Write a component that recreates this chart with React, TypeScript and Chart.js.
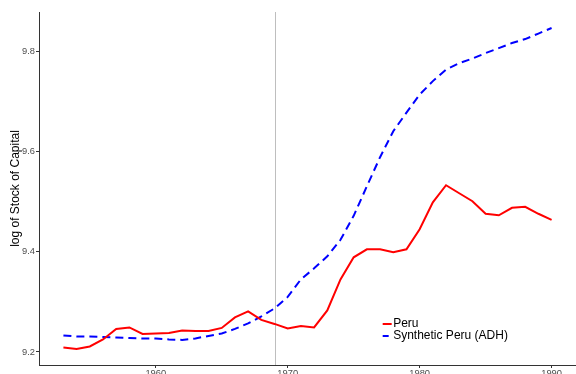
import React, { useEffect, useRef } from "react";
import { Chart, registerables } from "chart.js";

Chart.register(...registerables);

const years = [
  1953, 1954, 1955, 1956, 1957, 1958, 1959, 1960, 1961, 1962, 1963, 1964, 1965,
  1966, 1967, 1968, 1969, 1970, 1971, 1972, 1973, 1974, 1975, 1976, 1977, 1978,
  1979, 1980, 1981, 1982, 1983, 1984, 1985, 1986, 1987, 1988, 1989, 1990,
];

const peru = [
  9.209, 9.206, 9.211, 9.225, 9.246, 9.249, 9.236, 9.237, 9.238, 9.243, 9.242,
  9.242, 9.248, 9.269, 9.281, 9.264, 9.256, 9.247, 9.252, 9.249, 9.283, 9.345,
  9.389, 9.405, 9.405, 9.399, 9.405, 9.445, 9.499, 9.533, 9.517, 9.501, 9.476,
  9.473, 9.488, 9.49, 9.476, 9.464,
];

const syntheticPeru = [
  9.233, 9.231, 9.231, 9.23, 9.229, 9.228, 9.227, 9.227, 9.225, 9.224, 9.227,
  9.232, 9.237, 9.246, 9.257, 9.271, 9.287, 9.31, 9.345, 9.367, 9.391, 9.424,
  9.472, 9.531, 9.589, 9.641, 9.678, 9.714, 9.741, 9.764, 9.777, 9.786, 9.797,
  9.807, 9.817, 9.825, 9.836, 9.847,
];

const xTicks = [1960, 1970, 1980, 1990];
const yTicks = [9.2, 9.4, 9.6, 9.8];
const treatmentYear = 1969;
const seriesLabels = ["Peru", "Synthetic Peru (ADH)"];
const yTitle = "log of Stock of Capital";

const FONT = "'Liberation Sans', Arial, sans-serif";

function expand(values: number[], frac = 0.05): [number, number] {
  const lo = Math.min(...values);
  const hi = Math.max(...values);
  const pad = (hi - lo) * frac;
  return [lo - pad, hi + pad];
}

const vlinePlugin = {
  id: "vline",
  beforeDatasetsDraw(chart: any) {
    const { ctx, chartArea, scales } = chart;
    const x = Math.round(scales.x.getPixelForValue(treatmentYear)) + 0.5;
    ctx.save();
    ctx.strokeStyle = "#bebebe";
    ctx.lineWidth = 1;
    ctx.beginPath();
    ctx.moveTo(x, chartArea.top);
    ctx.lineTo(x, chartArea.bottom);
    ctx.stroke();
    ctx.restore();
  },
};

const legendPlugin = {
  id: "insideLegend",
  afterDraw(chart: any) {
    const { ctx, chartArea } = chart;
    const w = chartArea.right - chartArea.left;
    const h = chartArea.bottom - chartArea.top;
    const keyX = chartArea.left + w * 0.64;
    const keyW = 9;
    const y0 = chartArea.top + h * 0.885;
    const step = 11.5;
    ctx.save();
    ctx.font = `12px ${FONT}`;
    ctx.textBaseline = "middle";
    ctx.textAlign = "left";
    chart.data.datasets.forEach((ds: any, i: number) => {
      const y = Math.round(y0 + i * step);
      ctx.strokeStyle = ds.borderColor;
      ctx.lineWidth = 2;
      ctx.setLineDash(ds.borderDash && ds.borderDash.length ? [6, 5] : []);
      ctx.beginPath();
      ctx.moveTo(keyX, y);
      ctx.lineTo(keyX + keyW, y);
      ctx.stroke();
      ctx.setLineDash([]);
      ctx.fillStyle = "#000000";
      ctx.fillText(ds.label, keyX + keyW + 1.5, y);
    });
    ctx.restore();
  },
};

export default function App() {
  const canvasRef = useRef<HTMLCanvasElement | null>(null);

  useEffect(() => {
    document.body.style.margin = "0";
    const canvas = canvasRef.current;
    if (!canvas) return;
    const [xMin, xMax] = expand(years);
    const [yMin, yMax] = expand([...peru, ...syntheticPeru]);

    const chart = new Chart(canvas, {
      type: "line",
      data: {
        datasets: [
          {
            label: seriesLabels[0],
            data: years.map((yr, i) => ({ x: yr, y: peru[i] })),
            borderColor: "#ff0000",
            backgroundColor: "#ff0000",
            borderWidth: 2,
            pointRadius: 0,
            tension: 0,
            fill: false,
          },
          {
            label: seriesLabels[1],
            data: years.map((yr, i) => ({ x: yr, y: syntheticPeru[i] })),
            borderColor: "#0000ff",
            backgroundColor: "#0000ff",
            borderWidth: 2,
            borderDash: [8, 5],
            pointRadius: 0,
            tension: 0,
            fill: false,
          },
        ],
      },
      options: {
        animation: false,
        responsive: false,
        devicePixelRatio: 1,
        layout: { padding: { top: 12, right: 0, left: 0, bottom: 0 } },
        plugins: {
          legend: { display: false },
          tooltip: { enabled: false },
        },
        scales: {
          x: {
            type: "linear",
            min: xMin,
            max: xMax,
            afterBuildTicks(scale: any) {
              scale.ticks = xTicks.map((v) => ({ value: v }));
            },
            afterFit(scale: any) {
              scale.height = 9;
            },
            border: { display: true, color: "#333333", width: 1 },
            grid: {
              display: true,
              drawOnChartArea: false,
              drawTicks: true,
              tickLength: 3,
              color: "#333333",
            },
            ticks: {
              padding: 0,
              maxRotation: 0,
              autoSkip: false,
              color: "#4d4d4d",
              font: { family: FONT, size: 9.3 },
              callback: (v: any) => String(v),
            },
          },
          y: {
            type: "linear",
            min: yMin,
            max: yMax,
            afterBuildTicks(scale: any) {
              scale.ticks = yTicks.map((v) => ({ value: v }));
            },
            afterFit(scale: any) {
              scale.width = 39;
            },
            border: { display: true, color: "#333333", width: 1 },
            grid: {
              display: true,
              drawOnChartArea: false,
              drawTicks: true,
              tickLength: 3,
              color: "#333333",
            },
            ticks: {
              padding: 1,
              autoSkip: false,
              color: "#4d4d4d",
              font: { family: FONT, size: 9.3 },
              callback: (v: any) => Number(v).toFixed(1),
            },
            title: {
              display: true,
              text: yTitle,
              color: "#000000",
              font: { family: FONT, size: 12 },
              padding: { top: 8, bottom: 0 },
            },
          },
        },
      },
      plugins: [vlinePlugin, legendPlugin],
    });

    return () => chart.destroy();
  }, []);

  return (
    <div style={{ position: "fixed", left: 0, top: 0, width: 576, height: 374 }}>
      <canvas ref={canvasRef} width={576} height={374} style={{ width: 576, height: 374 }} />
    </div>
  );
}
